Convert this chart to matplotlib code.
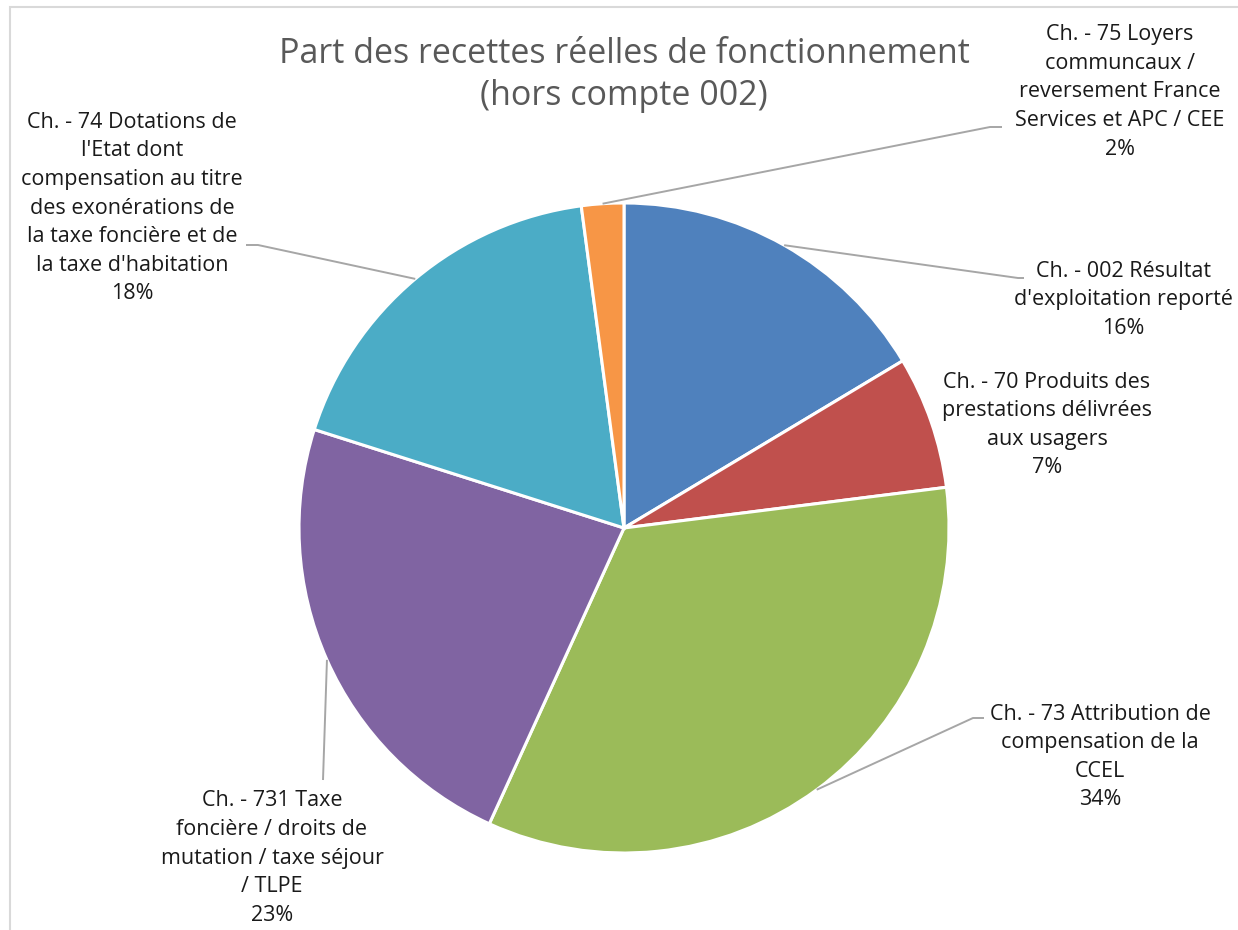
import numpy as np
import matplotlib.pyplot as plt
from matplotlib.patches import Rectangle

# Data
categories = [
    "Ch. - 002 Résultat\nd'exploitation reporté",
    "Ch. - 70 Produits des\nprestations délivrées\naux usagers",
    "Ch. - 73 Attribution de\ncompensation de la\nCCEL",
    "Ch. - 731 Taxe\nfoncière / droits de\nmutation / taxe séjour\n/ TLPE",
    "Ch. - 74 Dotations de\nl'Etat dont\ncompensation au titre\ndes exonérations de\nla taxe foncière et de\nla taxe d'habitation",
    "Ch. - 75 Loyers\ncommuncaux /\nreversement France\nServices et APC / CEE",
]
values = [16.4, 6.6, 33.8, 23.1, 18.0, 2.1]
colors = ["#4F81BD", "#C0504D", "#9BBB59", "#8064A2", "#4BACC6", "#F79646"]

W, H = 1238, 930
def Y(y):  # pixel row -> data y
    return H - y

plt.rcParams['font.family'] = ['Open Sans', 'DejaVu Sans']

fig = plt.figure(figsize=(W / 100, H / 100), dpi=100)
ax = fig.add_axes([0, 0, 1, 1])

# chart frame
fig.patches.append(Rectangle((10 / W, -0.1), 1.2, (H - 7) / H + 0.1,
                             transform=fig.transFigure, fill=False,
                             edgecolor="#D9D9D9", lw=1.5))

cx, cy, r = 624, Y(528), 325
wedges, _ = ax.pie(values, colors=colors, startangle=90, counterclock=False,
                   radius=r, center=(cx, cy),
                   wedgeprops=dict(edgecolor="white", linewidth=2.2))
ax.set_xlim(0, W)
ax.set_ylim(0, H)
ax.set_aspect('equal')
ax.axis('off')

ax.text(624, Y(75), "Part des recettes réelles de fonctionnement\n(hors compte 002)",
        ha='center', va='center', fontsize=24.5, color="#595959", linespacing=1.28)

# label centers and leader knee points (pixels)
label_pos = [(1123, 300), (1047, 425), (1100, 757), (272, 858), (132, 208), (1120, 92)]
knees = [[(1018, 278), (1024, 278)], None, [(973, 718), (984, 718)],
         [(323, 780)], [(258, 245), (246, 245)], [(990, 127), (1002, 127)]]

for w, cat, v, (lx, ly), kn in zip(wedges, categories, values, label_pos, knees):
    txt = f"{cat}\n{round(v):.0f}%"
    ax.text(lx, Y(ly), txt, ha='center', va='center', fontsize=15.5,
            color="#1a1a1a", linespacing=1.47, multialignment='center')
    if kn is None:
        continue
    mid = np.deg2rad((w.theta1 + w.theta2) / 2)
    ax0 = cx + r * np.cos(mid)
    ay0 = cy + r * np.sin(mid)
    xs = [ax0] + [p[0] for p in kn]
    ys = [ay0] + [Y(p[1]) for p in kn]
    ax.plot(xs, ys, color="#A6A6A6", lw=1.4, solid_capstyle='butt')

fig.savefig("out.png", dpi=100)
